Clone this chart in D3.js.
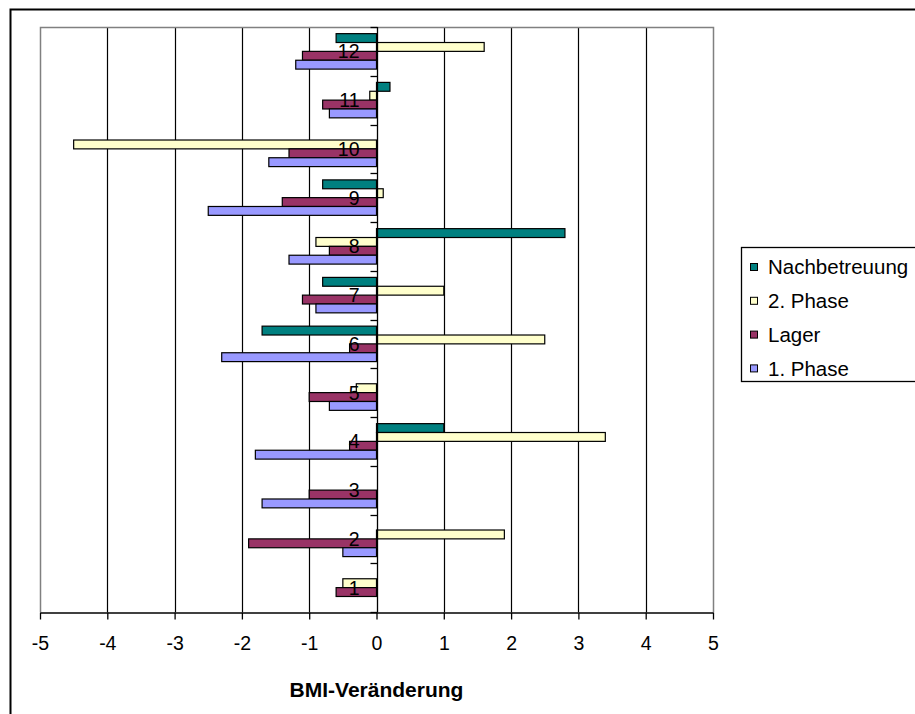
<!DOCTYPE html>
<html>
<head>
<meta charset="utf-8">
<script src="https://cdn.jsdelivr.net/npm/d3@7"></script>
<style>
  html, body { margin: 0; padding: 0; background: #fff; }
  svg { display: block; font-family: Arial, "Liberation Sans", sans-serif; }
</style>
</head>
<body>
<svg id="chart" width="915" height="714"></svg>
<script>
// Categories (participants 1..12) and BMI changes per phase
const categories = ["1", "2", "3", "4", "5", "6", "7", "8", "9", "10", "11", "12"];
const seriesNames = ["Nachbetreuung", "2. Phase", "Lager", "1. Phase"];
const phase1 = [0, -0.5, -1.7, -1.8, -0.7, -2.3, -0.9, -1.3, -2.5, -1.6, -0.7, -1.2];
const lager = [-0.6, -1.9, -1.0, -0.4, -1.0, -0.4, -1.1, -0.7, -1.4, -1.3, -0.8, -1.1];
const phase2 = [-0.5, 1.9, 0, 3.4, -0.3, 2.5, 1.0, -0.9, 0.1, -4.5, -0.1, 1.6];
const nachbetreuung = [0, 0, 0, 1.0, 0, -1.7, -0.8, 2.8, -0.8, 0, 0.2, -0.6];
const xTicks = [-5, -4, -3, -2, -1, 0, 1, 2, 3, 4, 5];
const xTitle = "BMI-Veränderung";

const seriesValues = {
  "Nachbetreuung": nachbetreuung,
  "2. Phase": phase2,
  "Lager": lager,
  "1. Phase": phase1
};
const colors = {
  "Nachbetreuung": "#008080",
  "2. Phase": "#FFFFCC",
  "Lager": "#993366",
  "1. Phase": "#9999FF"
};

const svg = d3.select("#chart");

// plot area
const plot = { left: 40, right: 713, top: 27, bottom: 612 };

const x = d3.scaleLinear().domain([-5, 5]).range([plot.left, plot.right]);
const y = d3.scaleBand()
  .domain(categories.slice().reverse())
  .range([plot.top, plot.bottom])
  .padding(0);
const ySeries = d3.scaleBand()
  .domain(seriesNames)
  .range([0, y.bandwidth()])
  .paddingInner(0)
  .paddingOuter(0.75);

// outer chart frame
svg.append("rect")
  .attr("x", 10.5).attr("y", 9.5)
  .attr("width", 930).attr("height", 730)
  .attr("fill", "none").attr("stroke", "#000").attr("stroke-width", 2);

// vertical gridlines
svg.append("g")
  .selectAll("line")
  .data(xTicks.filter(t => t > -5 && t < 5 && t !== 0))
  .join("line")
  .attr("x1", d => Math.round(x(d)) + 0.5).attr("x2", d => Math.round(x(d)) + 0.5)
  .attr("y1", plot.top).attr("y2", plot.bottom)
  .attr("stroke", "#000").attr("stroke-width", 1.2);

// plot area border (left, top, right)
svg.append("path")
  .attr("d", `M${plot.left + 0.5},${plot.bottom} V${plot.top + 0.5} H${plot.right + 0.5} V${plot.bottom}`)
  .attr("fill", "none").attr("stroke", "#808080").attr("stroke-width", 1.5);

// bars
const groups = svg.append("g")
  .selectAll("g")
  .data(categories.map((c, i) => ({ c, i })))
  .join("g")
  .attr("transform", d => `translate(0,${y(d.c)})`);

groups.selectAll("rect")
  .data(d => seriesNames.map(s => ({ s, v: seriesValues[s][d.i] })).filter(e => e.v !== 0))
  .join("rect")
  .attr("x", e => Math.min(x(0), x(e.v)))
  .attr("y", e => ySeries(e.s))
  .attr("width", e => Math.abs(x(e.v) - x(0)))
  .attr("height", ySeries.bandwidth())
  .attr("fill", e => colors[e.s])
  .attr("stroke", "#000")
  .attr("stroke-width", 1.2);

// category axis at x = 0
const x0 = Math.round(x(0)) + 0.5;
svg.append("line")
  .attr("x1", x0).attr("x2", x0)
  .attr("y1", plot.top).attr("y2", plot.bottom)
  .attr("stroke", "#000").attr("stroke-width", 1.3);

const boundaries = categories.map(c => y(c)).concat([plot.bottom]);
svg.append("g")
  .selectAll("line")
  .data(boundaries)
  .join("line")
  .attr("x1", x0 - 7).attr("x2", x0)
  .attr("y1", d => Math.round(d) + 0.5).attr("y2", d => Math.round(d) + 0.5)
  .attr("stroke", "#000").attr("stroke-width", 1.3);

// category labels
svg.append("g")
  .selectAll("text")
  .data(categories)
  .join("text")
  .attr("x", x0 - 18)
  .attr("y", d => y(d) + y.bandwidth() / 2)
  .attr("dy", "0.36em")
  .attr("text-anchor", "end")
  .attr("font-size", 19.5)
  .attr("fill", "#000")
  .text(d => d);

// value axis
const xAxis = d3.axisBottom(x)
  .tickValues(xTicks)
  .tickFormat(d => String(d))
  .tickSize(7)
  .tickSizeOuter(0)
  .tickPadding(17);

const xAxisG = svg.append("g")
  .attr("transform", `translate(0,${plot.bottom + 0.5})`)
  .call(xAxis);
xAxisG.select(".domain").attr("stroke", "#000").attr("stroke-width", 1.5);
xAxisG.selectAll(".tick line").attr("stroke", "#000").attr("stroke-width", 1.3);
xAxisG.selectAll(".tick text")
  .attr("font-size", 19.5)
  .attr("font-family", "Arial, 'Liberation Sans', sans-serif")
  .attr("fill", "#000");

// axis title
svg.append("text")
  .attr("x", x(0))
  .attr("y", 697)
  .attr("text-anchor", "middle")
  .attr("font-size", 21)
  .attr("font-weight", "bold")
  .text(xTitle);

// legend
const legend = svg.append("g").attr("transform", "translate(741,247)");
legend.append("rect")
  .attr("x", 0.5).attr("y", 0.5)
  .attr("width", 200).attr("height", 134)
  .attr("fill", "#fff").attr("stroke", "#000").attr("stroke-width", 1.3);

const items = legend.selectAll("g.item")
  .data(seriesNames)
  .join("g")
  .attr("class", "item")
  .attr("transform", (d, i) => `translate(0,${20 + i * 33.8})`);
items.append("rect")
  .attr("x", 9.5).attr("y", -3.5)
  .attr("width", 7).attr("height", 7)
  .attr("fill", d => colors[d])
  .attr("stroke", "#000").attr("stroke-width", 1);
items.append("text")
  .attr("x", 27)
  .attr("y", 0)
  .attr("dy", "0.36em")
  .attr("font-size", 20.5)
  .text(d => d);
</script>
</body>
</html>
